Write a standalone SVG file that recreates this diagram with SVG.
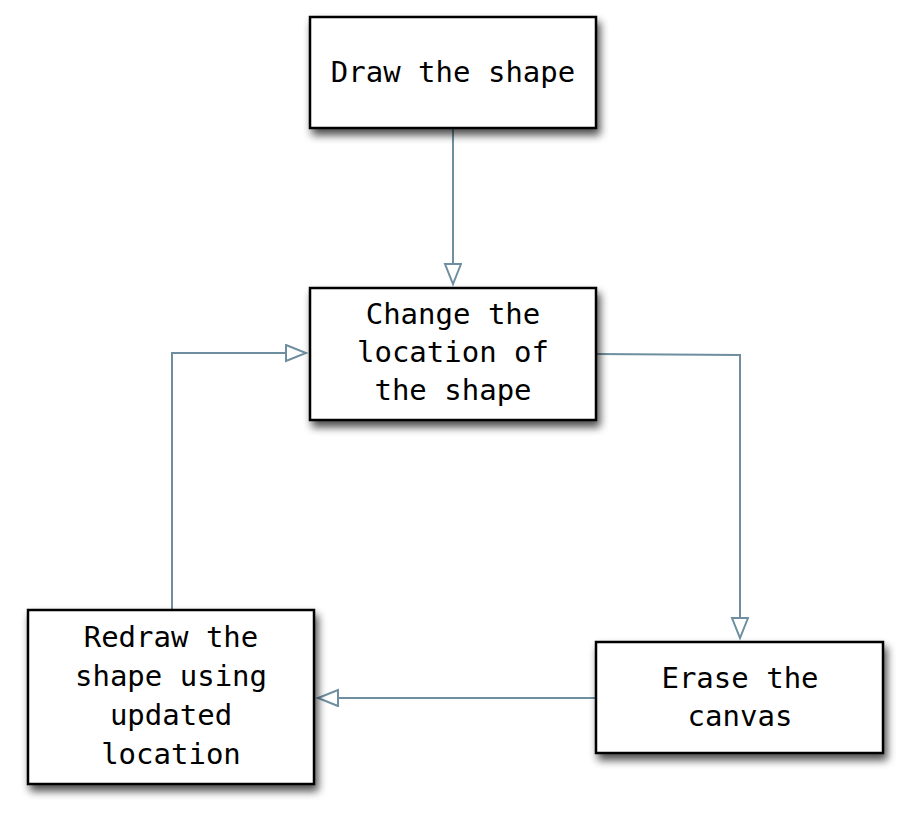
<svg xmlns="http://www.w3.org/2000/svg" width="909" height="821" viewBox="0 0 909 821">
<style>
.box{fill:#fff;stroke:#000;stroke-width:2.5;filter:url(#sh)}
.t{font-family:"DejaVu Sans Mono","Liberation Mono",monospace;font-size:29px;fill:#000;text-anchor:middle}
.c{fill:none;stroke:#6f8fa0;stroke-width:2}
</style>
<defs>
<filter id="sh" x="-10%" y="-10%" width="125%" height="135%">
<feGaussianBlur in="SourceAlpha" stdDeviation="4"/>
<feOffset dx="3" dy="6" result="b"/>
<feComponentTransfer><feFuncA type="linear" slope="0.7"/></feComponentTransfer>
<feMerge><feMergeNode/><feMergeNode in="SourceGraphic"/></feMerge>
</filter>
<marker id="ah" markerWidth="24" markerHeight="20" refX="21" refY="9" orient="auto" markerUnits="userSpaceOnUse">
<path d="M1,1 L21,9 L1,17 Z" fill="#fff" stroke="#6f8fa0" stroke-width="2"/>
</marker>
</defs>
<rect width="909" height="821" fill="#fff"/>
<g id="connectors">
<path class="c" d="M453,129 V284" marker-end="url(#ah)"/>
<path class="c" d="M597,354 L740,355 V638" marker-end="url(#ah)"/>
<path class="c" d="M596,698 H318" marker-end="url(#ah)"/>
<path class="c" d="M172,609 V353 H306" marker-end="url(#ah)"/>
</g>
<g id="draw">
<rect class="box" x="310" y="17" width="286" height="111"/>
<text class="t" x="453" y="82">Draw the shape</text>
</g>
<g id="change">
<rect class="box" x="310" y="288" width="286" height="132"/>
<text class="t" x="453" y="324">Change the</text>
<text class="t" x="453" y="362">location of</text>
<text class="t" x="453" y="400">the shape</text>
</g>
<g id="redraw">
<rect class="box" x="28" y="610" width="286" height="174"/>
<text class="t" x="171" y="647">Redraw the</text>
<text class="t" x="171" y="686">shape using</text>
<text class="t" x="171" y="725">updated</text>
<text class="t" x="171" y="764">location</text>
</g>
<g id="erase">
<rect class="box" x="596" y="642" width="287" height="111"/>
<text class="t" x="740" y="688">Erase the</text>
<text class="t" x="740" y="726">canvas</text>
</g>
</svg>
